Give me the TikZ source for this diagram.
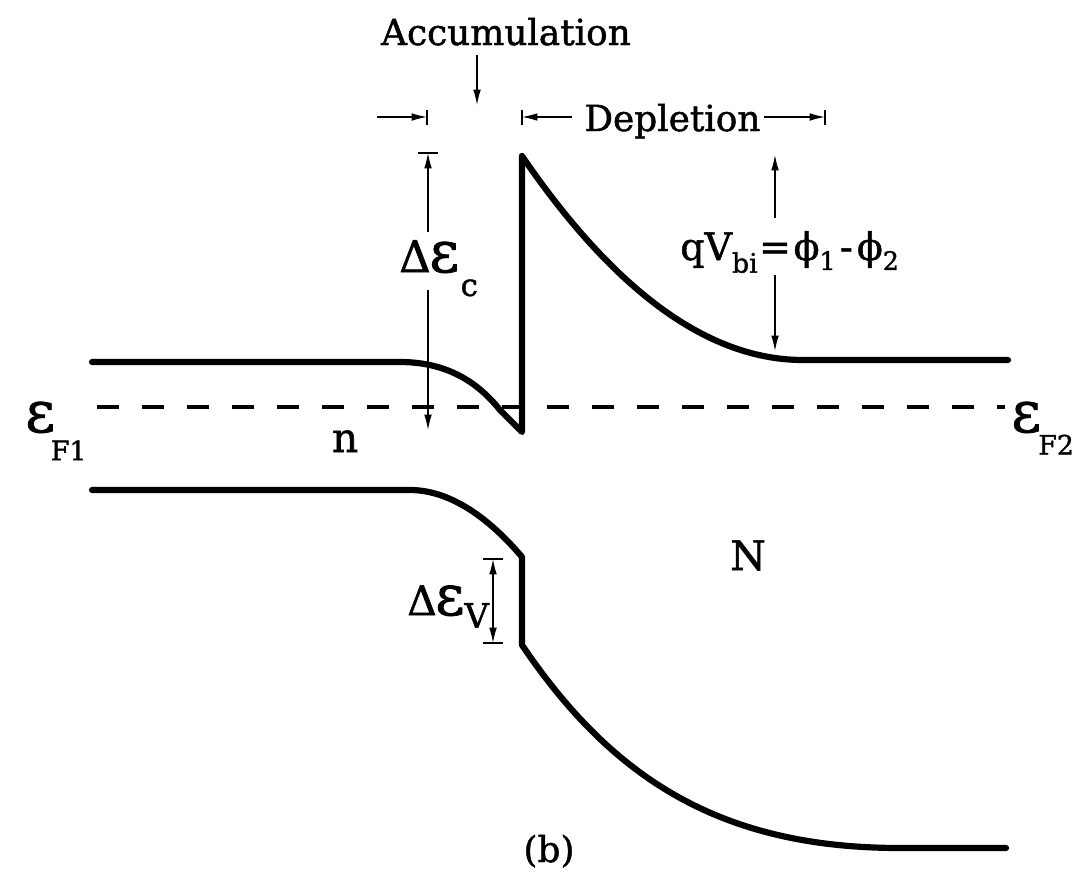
\documentclass[tikz,border=0pt]{standalone}
\usepackage{fontspec}
\setmainfont{DejaVu Serif}[FakeBold=1.3]
\usetikzlibrary{arrows.meta}
\begin{document}
\begin{tikzpicture}[x=0.025cm,y=-0.025cm,
  band/.style={line width=4.4pt, line join=round, line cap=round},
  fermi/.style={line width=3.4pt, dash pattern=on 15.6pt off 16.4pt},
  dim/.style={line width=0.9pt},
  tip/.style={-{Latex[length=11pt,width=5.5pt]}},
  twotip/.style={{Latex[length=11pt,width=5.5pt]}-{Latex[length=11pt,width=5.5pt]}},
  barline/.style={line width=1.6pt},
  lab/.style={inner sep=0pt, font=\fontsize{25.5}{30}\selectfont},
  big/.style={inner sep=0pt, font=\fontsize{29}{32}\selectfont}
]
\useasboundingbox (0,0) rectangle (1079,875);

% conduction band
\coordinate (cL) at (92,362);
\coordinate (cB) at (400,362);
\coordinate (cK) at (500,410);
\coordinate (cMin) at (522,432);
\coordinate (cPk) at (522,156);
\coordinate (cF) at (803,360);
\coordinate (cR) at (1008,360);
\draw[band] (cL) -- (cB) .. controls (450,362) and (480,385) .. (cK) -- (cMin) -- (cPk)
  .. controls (615,292) and (709,360) .. (cF) -- (cR);

% valence band
\coordinate (vL) at (92,490);
\coordinate (vB) at (410,490);
\coordinate (vT) at (522,557);
\coordinate (vS) at (522,645);
\coordinate (vF) at (900,848);
\coordinate (vR) at (1006,848);
\draw[band] (vL) -- (vB) .. controls (455,490) and (495,525) .. (vT) -- (vS)
  .. controls (612,778) and (720,848) .. (vF) -- (vR);

% Fermi level
\coordinate (fL) at (97,407);
\coordinate (fR) at (1005,407);
\draw[fermi] (fL) -- (fR);

% Accumulation
\node[lab, anchor=base] (acc) at (506,45) {Accumulation};
\coordinate (accA) at (477,55);
\coordinate (accB) at (477,105);
\draw[dim,tip] (accA) -- (accB);

% left marker of accumulation region
\coordinate (la) at (377,117);
\coordinate (lb) at (427,117);
\coordinate (lbt) at (427,110);
\coordinate (lbb) at (427,125);
\draw[dim,tip] (la) -- (lb);
\draw[barline] (lbt) -- (lbb);

% Depletion
\node[lab, anchor=base west] (dep) at (584,131) {Depletion};
\coordinate (d1) at (572,117);
\coordinate (d1e) at (522,117);
\coordinate (d1t) at (522,110);
\coordinate (d1b) at (522,125);
\coordinate (d2) at (764,117);
\coordinate (d2e) at (825,117);
\coordinate (d2t) at (825,110);
\coordinate (d2b) at (825,125);
\draw[barline] (d1t) -- (d1b);
\draw[dim,tip] (d1) -- (d1e);
\draw[dim,tip] (d2) -- (d2e);
\draw[barline] (d2t) -- (d2b);

% Delta E_c
\coordinate (ecT) at (428,153);
\coordinate (ecTl) at (418,153);
\coordinate (ecTr) at (438,153);
\coordinate (ec1) at (428,232);
\coordinate (ec2) at (428,290);
\coordinate (ecB) at (428,430);
\draw[barline] (ecTl) -- (ecTr);
\draw[dim,tip] (ec1) -- (ecT);
\draw[dim,tip] (ec2) -- (ecB);
\node[inner sep=0pt, anchor=base west] (ecl) at (399,272)
  {\fontsize{31}{31}\selectfont Δ\kern-1pt{\fontsize{41}{41}\selectfont ε}\kern1pt\raisebox{-17pt}{\fontsize{22}{22}\selectfont c}};

% Delta E_v
\coordinate (evT) at (493,559);
\coordinate (evB) at (493,643);
\coordinate (evTl) at (483,559);
\coordinate (evTr) at (503,559);
\coordinate (evBl) at (483,643);
\coordinate (evBr) at (503,643);
\draw[barline] (evTl) -- (evTr);
\draw[barline] (evBl) -- (evBr);
\draw[dim,twotip] (evT) -- (evB);
\node[inner sep=0pt, anchor=base west] (evl) at (407,615)
  {\fontsize{29}{29}\selectfont Δ\kern-1pt{\fontsize{40}{40}\selectfont ε}\raisebox{-9pt}{\fontsize{24}{24}\selectfont V}};

% qV_bi
\coordinate (q1) at (775,218);
\coordinate (qT) at (775,155);
\coordinate (q2) at (775,275);
\coordinate (qB) at (775,351);
\draw[dim,tip] (q1) -- (qT);
\draw[dim,tip] (q2) -- (qB);
\node[inner sep=0pt, anchor=base west] (qv) at (680,260)
  {\fontsize{27}{27}\selectfont qV\raisebox{-9pt}{\fontsize{19}{19}\selectfont bi}\kern1pt=\kern2pt ϕ\raisebox{-7pt}{\fontsize{18}{18}\selectfont 1}\kern3pt-\kern3pt ϕ\raisebox{-7pt}{\fontsize{18}{18}\selectfont 2}};

% Fermi labels
\node[inner sep=0pt, anchor=base west] (ef1) at (25,432)
  {{\fontsize{41}{41}\selectfont ε}\kern-3pt\raisebox{-20pt}{\fontsize{19}{19}\selectfont F1}};
\node[inner sep=0pt, anchor=base west] (ef2) at (1011,432)
  {{\fontsize{41}{41}\selectfont ε}\kern-2pt\raisebox{-16pt}{\fontsize{19}{19}\selectfont F2}};

% region labels
\node[big, anchor=base] (nlab) at (345,452) {n};
\node[big, anchor=base] (Nlab) at (748,570) {N};
\node[lab, anchor=base] (blab) at (549,862) {(b)};
\end{tikzpicture}
\end{document}
